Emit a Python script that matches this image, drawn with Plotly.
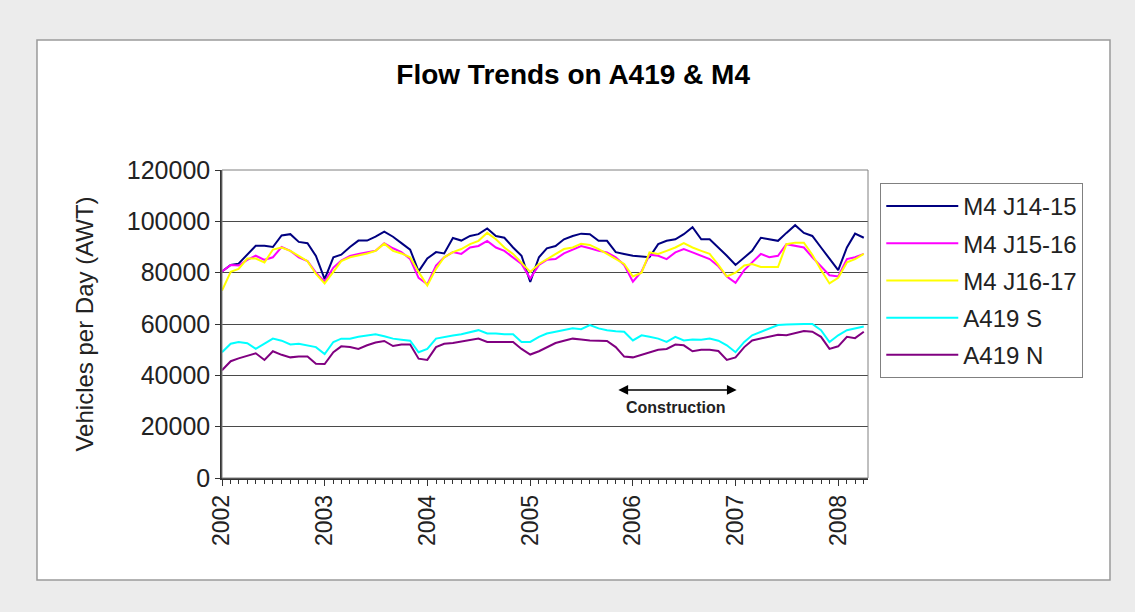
import pandas as pd
import plotly.graph_objects as go

# Monthly average weekday traffic (vehicles per day), Jan 2002 - Apr 2008
months = pd.date_range("2002-01-01", periods=76, freq="MS")

m4_j14_15 = [
    80500, 83000, 83500, 87000, 90500, 90500, 90000, 94500, 95000, 92000, 91500, 86500,
    77500, 86000, 87000, 90000, 92500, 92500, 94000, 96000, 94000, 91500, 89000, 80500,
    85500, 88000, 87500, 93500, 92500, 94300, 95000, 97200, 94300, 93600, 89800, 86600,
    76400, 86000, 89500, 90400, 93000, 94300, 95200, 95000, 92400, 92400, 88000, 87300,
    86600, 86300, 86000, 91100, 92400, 93000, 95000, 97700, 93000, 93000, 89800, 86600,
    83000, 86000, 88500, 93600, 93000, 92400, 95500, 98500, 95500, 94300, 89800, 85500,
    81000, 89800, 95200, 93600,
]
m4_j15_16 = [
    80500, 83000, 82800, 85000, 86600, 85000, 86000, 90000, 88500, 86000, 84500, 80000,
    76500, 82000, 84700, 86500, 87300, 87900, 88500, 91500, 89500, 88000, 85300, 78000,
    75500, 82800, 86000, 88000, 87300, 89800, 90400, 92400, 89800, 88500, 86000, 83400,
    77700, 83000, 85000, 85300, 87500, 89000, 90400, 89500, 88500, 87900, 86000, 83000,
    76500, 80500, 87000, 86600, 85300, 87900, 89200, 87900, 86600, 85300, 82500, 78500,
    76000, 81000, 84000, 87300, 86000, 86600, 91100, 90400, 89800, 86000, 82500, 79000,
    78500, 85300, 86000, 87300,
]
m4_j16_17 = [
    73000, 80300, 81500, 85500, 85500, 84000, 89000, 89800, 88500, 86500, 84500, 79500,
    75800, 80300, 84500, 86000, 86600, 87500, 88500, 91300, 88500, 87500, 86000, 80300,
    75000, 81500, 86000, 88000, 89200, 91100, 92400, 95500, 93000, 89800, 87300, 84000,
    80300, 83400, 85300, 87300, 89200, 89800, 91300, 90800, 89200, 87300, 85300, 83400,
    78500, 80000, 87900, 87300, 88500, 89800, 91500, 89800, 88500, 87300, 83000, 78500,
    80000, 82800, 83400, 82200, 82200, 82200, 91100, 91700, 91700, 87000, 81000, 75800,
    78000, 84000, 85300, 87300,
]
a419_s = [
    49000, 52300, 53000, 52500, 50300, 52500, 54300, 53500, 52000, 52300, 51500, 51000,
    48300, 53000, 54300, 54300, 55000, 55500, 56000, 55200, 54300, 53900, 53500, 49000,
    50300, 54300, 55000, 55500, 56000, 56800, 57600, 56300, 56300, 56000, 56000, 53000,
    53000, 55000, 56300, 57000, 57600, 58300, 58000, 59600, 58300, 57600, 57200, 57000,
    53600, 55600, 55000, 54300, 53000, 55000, 53600, 54000, 53900, 54300, 53500, 51700,
    49000, 53000, 55600, 57000, 58300, 59600, 59800, 60000, 60000, 60000, 57600, 53000,
    55600, 57600, 58300, 59000,
]
a419_n = [
    42000, 45500, 46600, 47500, 48600, 46000, 49400, 48000, 47000, 47300, 47300, 44500,
    44400, 49000, 51300, 51000, 50300, 51700, 52800, 53400, 51400, 52000, 52000, 46500,
    46000, 51000, 52300, 52600, 53200, 53800, 54300, 53000, 53000, 53000, 53000, 50300,
    48100, 49400, 51000, 52600, 53500, 54300, 54000, 53600, 53500, 53400, 51000, 47300,
    47000, 48000, 49000, 50000, 50300, 52000, 51700, 49400, 50000, 50000, 49500, 46000,
    47000, 51000, 53600, 54300, 55000, 55800, 55600, 56500, 57300, 57000, 55000, 50300,
    51300, 55000, 54500, 57000,
]

series_names = ["M4 J14-15", "M4 J15-16", "M4 J16-17", "A419 S", "A419 N"]
series_values = [m4_j14_15, m4_j15_16, m4_j16_17, a419_s, a419_n]
series_colors = ["#000080", "#ff00ff", "#ffff00", "#00ffff", "#800080"]

year_ticks = ["2002", "2003", "2004", "2005", "2006", "2007", "2008"]
y_ticks = [0, 20000, 40000, 60000, 80000, 100000, 120000]

FONT = "Liberation Sans, Arial, sans-serif"

fig = go.Figure()
for name, vals, col in zip(series_names, series_values, series_colors):
    fig.add_trace(go.Scatter(
        x=months, y=vals, name=name, mode="lines",
        line=dict(color=col, width=2), legendgroup=name,
    ))

# Outer white chart panel with grey frame
fig.add_shape(type="rect", xref="paper", yref="paper",
              x0=-0.2864, x1=1.3746, y0=-0.331, y1=1.422,
              fillcolor="white", line=dict(color="#9a9a9a", width=1.5), layer="below")
# Plot-area frame
fig.add_shape(type="rect", xref="paper", yref="paper", x0=0, x1=1, y0=0, y1=1,
              line=dict(color="#808080", width=1), layer="above")

# Construction period marker
fig.add_annotation(x="2007-01-05", y=34300, ax="2005-11-05", ay=34300,
                   xref="x", yref="y", axref="x", ayref="y",
                   text="", showarrow=True, arrowhead=2, startarrowhead=2,
                   arrowside="end+start", arrowsize=1.3, arrowwidth=1.5,
                   arrowcolor="black", startarrowsize=1.3)
fig.add_annotation(x="2006-06-05", y=27300, xref="x", yref="y", text="<b>Construction</b>",
                   showarrow=False, font=dict(family=FONT, size=16, color="#222"))

fig.update_layout(
    width=1135, height=612,
    margin=dict(l=222, r=267, t=170, b=134),
    paper_bgcolor="#ececec",
    plot_bgcolor="#c0c0c0",
    font=dict(family=FONT, size=23, color="black"),
    title=dict(text="<b>Flow Trends on A419 &amp; M4</b>", x=0.505, xref="container",
               y=1 - 74 / 612, yref="container", yanchor="middle", xanchor="center",
               font=dict(family=FONT, size=28, color="black")),
    showlegend=True,
    legend=dict(x=1.019, y=0.958, xanchor="left", yanchor="top",
                bgcolor="white", bordercolor="#808080", borderwidth=1,
                font=dict(family=FONT, size=24, color="#222"),
                tracegroupgap=3, itemwidth=72),
    xaxis=dict(
        range=["2002-01-01", "2008-04-16"],
        tickvals=[f"{y}-01-01" for y in year_ticks], ticktext=year_ticks,
        tickangle=-90, ticks="outside", ticklen=6, tickcolor="#333",
        minor=dict(ticks="outside", dtick="M1", ticklen=4, tickcolor="#333", showgrid=False),
        showgrid=False, showline=True, linecolor="#333", linewidth=1.5,
        tickfont=dict(family=FONT, size=23, color="#222"), zeroline=False,
    ),
    yaxis=dict(
        range=[0, 120000], tickvals=y_ticks, ticktext=[str(v) for v in y_ticks],
        ticks="outside", ticklen=5, tickcolor="#333",
        showgrid=True, gridcolor="#4a4a4a", gridwidth=1,
        showline=True, linecolor="#333", linewidth=1.5, zeroline=False,
        tickfont=dict(family=FONT, size=25, color="#222"),
        title=dict(text="Vehicles per Day (AWT)", standoff=26,
                   font=dict(family=FONT, size=24, color="#222")),
    ),
)

fig.write_html("out.html")
